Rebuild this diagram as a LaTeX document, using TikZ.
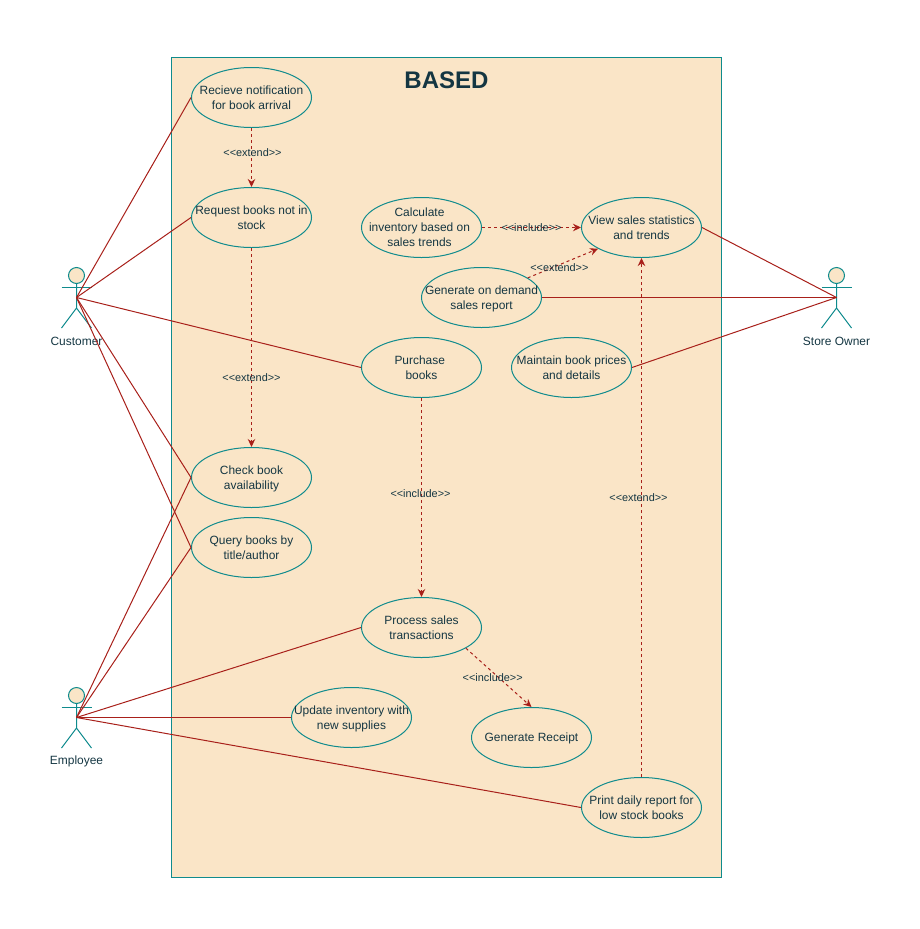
\documentclass[tikz,border=0pt]{standalone}
\usepackage{fontspec}
\setmainfont{Liberation Sans}
\usepackage{xcolor}
\definecolor{boxfill}{HTML}{FAE5C7}
\definecolor{tealline}{HTML}{0F8B8D}
\definecolor{redline}{HTML}{A8201A}
\definecolor{inktext}{HTML}{143642}
\usetikzlibrary{shapes.geometric,arrows.meta}

\begin{document}
\begin{tikzpicture}[
    line width=0.02cm,
    usecase/.style={ellipse, draw=tealline, fill=boxfill, minimum width=2.4cm, minimum height=1.2cm, inner sep=0pt},
    uctext/.style={align=center, inner sep=0pt, yshift=-0.01cm, text=inktext, font=\fontsize{6.8}{8.54}\selectfont},
    frame/.style={rectangle, draw=tealline, fill=boxfill, minimum width=11cm, minimum height=16.4cm, inner sep=0pt},
    head/.style={circle, draw=tealline, fill=boxfill, minimum size=0.32cm, inner sep=0pt},
    stick/.style={draw=tealline},
    actorname/.style={text=inktext, inner sep=0pt, font=\fontsize{6.8}{8.54}\selectfont},
    assoc/.style={draw=redline},
    dep/.style={draw=redline, dash pattern=on 0.06cm off 0.06cm, -{Stealth[length=0.16cm, width=0.15cm]}},
    note/.style={text=inktext, inner sep=0pt, font=\fontsize{6.2}{7.8}\selectfont},
]
\useasboundingbox (0,0) rectangle (18.4,-18.58);

% System boundary
\node[frame] (based) at (8.93,-9.35) {};
\node[text=inktext, inner sep=0pt, font=\fontsize{13.66}{16}\selectfont\bfseries] (title) at (8.93,-1.6) {BASED};

% Actors
\node[head] (custhead) at (1.53,-5.51) {};
\coordinate (cust) at (1.53,-5.95);
\draw[stick] (custhead.south) -- ++(0,-0.48) -- ++(-0.3,-0.4) ++(0.3,0.4) -- ++(0.3,-0.4);
\draw[stick] (1.23,-5.75) -- (1.83,-5.75);
\node[actorname] (custname) at (1.53,-6.83) {Customer};

\node[head] (ownerhead) at (16.73,-5.51) {};
\coordinate (owner) at (16.73,-5.95);
\draw[stick] (ownerhead.south) -- ++(0,-0.48) -- ++(-0.3,-0.4) ++(0.3,0.4) -- ++(0.3,-0.4);
\draw[stick] (16.43,-5.75) -- (17.03,-5.75);
\node[actorname] (ownername) at (16.73,-6.83) {Store Owner};

\node[head] (emphead) at (1.53,-13.91) {};
\coordinate (emp) at (1.53,-14.35);
\draw[stick] (emphead.south) -- ++(0,-0.48) -- ++(-0.3,-0.4) ++(0.3,0.4) -- ++(0.3,-0.4);
\draw[stick] (1.23,-14.15) -- (1.83,-14.15);
\node[actorname] (empname) at (1.53,-15.23) {Employee};

% Use cases
\node[usecase, label={[uctext]center:Recieve notification\\for book arrival}] (notif) at (5.03,-1.95) {};
\node[usecase, label={[uctext]center:Request books not in\\stock}] (request) at (5.03,-4.35) {};
\node[usecase, label={[uctext, xshift=-0.04cm, yshift=0.01cm]center:Calculate\\inventory based on\\sales trends}] (calc) at (8.43,-4.55) {};
\node[usecase, label={[uctext]center:View sales statistics\\and trends}] (view) at (12.83,-4.55) {};
\node[usecase, label={[uctext, yshift=-0.02cm]center:Generate on demand\\sales report}] (report) at (9.63,-5.95) {};
\node[usecase, label={[uctext]center:Purchase\kern0.07cm\\books}] (purchase) at (8.43,-7.35) {};
\node[usecase, label={[uctext]center:Maintain book prices\\and details}] (maintain) at (11.43,-7.35) {};
\node[usecase, label={[uctext, yshift=-0.02cm]center:Check book\\availability}] (check) at (5.03,-9.55) {};
\node[usecase, label={[uctext]center:Query books by\\title/author}] (query) at (5.03,-10.95) {};
\node[usecase, label={[uctext]center:Process sales\\transactions}] (process) at (8.43,-12.55) {};
\node[usecase, label={[uctext, yshift=-0.02cm]center:Update inventory with\\new supplies}] (update) at (7.03,-14.35) {};
\node[usecase, label={[uctext]center:Generate Receipt}] (receipt) at (10.63,-14.75) {};
\node[usecase, label={[uctext]center:Print daily report for\\low stock books}] (print) at (12.83,-16.15) {};

% Associations
\draw[assoc] (cust) -- (notif.west);
\draw[assoc] (cust) -- (request.west);
\draw[assoc] (cust) -- (purchase.west);
\draw[assoc] (cust) -- (check.west);
\draw[assoc] (cust) -- (query.west);
\draw[assoc] (emp) -- (check.west);
\draw[assoc] (emp) -- (query.west);
\draw[assoc] (emp) -- (process.west);
\draw[assoc] (emp) -- (update.west);
\draw[assoc] (emp) -- (print.west);
\draw[assoc] (owner) -- (view.east);
\draw[assoc] (owner) -- (report.east);
\draw[assoc] (owner) -- (maintain.east);

% Include and extend
\draw[dep] (notif.south) -- (request.north) node[note, pos=0.42, xshift=0.02cm] {<{}<extend>{}>};
\draw[dep] (request.south) -- (check.north) node[note, pos=0.65] {<{}<extend>{}>};
\draw[dep] (calc.east) -- (view.west) node[note, midway] {<{}<include>{}>};
\draw[dep] (report.23) -- (view.206) node[note, pos=0.45, yshift=-0.06cm] {<{}<extend>{}>};
\draw[dep] (purchase.south) -- (process.north) node[note, pos=0.48, xshift=-0.02cm] {<{}<include>{}>};
\draw[dep] (process.-25) -- (receipt.north) node[note, midway, xshift=-0.12cm] {<{}<include>{}>};
\draw[dep] (print.north) -- (view.south) node[note, pos=0.538, xshift=-0.06cm] {<{}<extend>{}>};

\end{tikzpicture}
\end{document}
